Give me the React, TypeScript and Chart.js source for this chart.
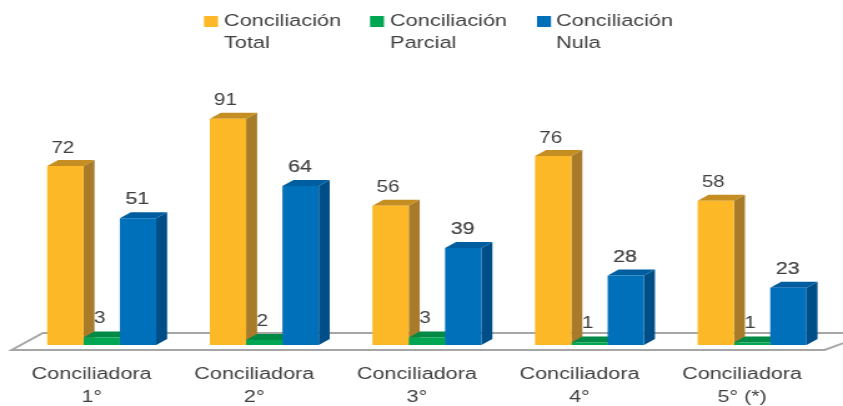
import React, { useEffect, useRef } from "react";
import { Chart, registerables } from "chart.js";

Chart.register(...registerables);

const categories = [
  ["Conciliadora", "1°"],
  ["Conciliadora", "2°"],
  ["Conciliadora", "3°"],
  ["Conciliadora", "4°"],
  ["Conciliadora", "5° (*)"],
];
const totalValues = [72, 91, 56, 76, 58];
const parcialValues = [3, 2, 3, 1, 1];
const nulaValues = [51, 64, 39, 28, 23];
const seriesNames = [
  ["Conciliación", "Total"],
  ["Conciliación", "Parcial"],
  ["Conciliación", "Nula"],
];
const frontColors = ["#FDB827", "#00A651", "#0070BA"];
const sideColors = ["#A87B2A", "#007A3D", "#004E87"];
const topColors = ["#C48E22", "#008A45", "#005DA0"];
const labelSizes = [16.5, 16.5, 17];
const labelShiftX = [-2, -1.5, -0.5];
const labelShiftY = [-18, -19, -18.5];
const labelStroke = [0, 0, 0.2];

const CANVAS_W = 675;
const CANVAS_H = 406;
const SX = 843 / CANVAS_W;
const TEXT = "#404040";
const FONT = "'Liberation Sans', Arial, sans-serif";
const DEPTH_X = 11 / SX;
const DEPTH_Y = 6;
const legendBoxX = [204, 370, 537];
const legendTextX = [224, 390, 556];

const threeD = {
  id: "threeD",
  beforeDatasetsDraw(chart: any) {
    const { ctx, chartArea } = chart;
    const b = chartArea.bottom;
    const l = chartArea.left;
    const r = chartArea.right;
    ctx.save();
    // floor
    ctx.beginPath();
    ctx.moveTo(l - 7, b + 5);
    ctx.lineTo(l + 18, b - 12);
    ctx.lineTo(r + 30, b - 12);
    ctx.lineTo(r - 7, b + 5);
    ctx.closePath();
    ctx.fillStyle = "#ffffff";
    ctx.fill();
    ctx.lineWidth = 2;
    ctx.strokeStyle = "#a6a6a6";
    ctx.stroke();
    // depth faces
    chart.data.datasets.forEach((_: any, di: number) => {
      chart.getDatasetMeta(di).data.forEach((bar: any) => {
        const x0 = bar.x - bar.width / 2;
        const x1 = bar.x + bar.width / 2;
        const y = bar.y;
        const base = bar.base;
        ctx.fillStyle = sideColors[di];
        ctx.beginPath();
        ctx.moveTo(x1, y);
        ctx.lineTo(x1 + DEPTH_X, y - DEPTH_Y);
        ctx.lineTo(x1 + DEPTH_X, base - DEPTH_Y);
        ctx.lineTo(x1, base);
        ctx.closePath();
        ctx.fill();
        ctx.fillStyle = topColors[di];
        ctx.beginPath();
        ctx.moveTo(x0, y);
        ctx.lineTo(x0 + DEPTH_X, y - DEPTH_Y);
        ctx.lineTo(x1 + DEPTH_X, y - DEPTH_Y);
        ctx.lineTo(x1, y);
        ctx.closePath();
        ctx.fill();
      });
    });
    ctx.restore();
  },
  afterDatasetsDraw(chart: any) {
    const { ctx } = chart;
    ctx.save();
    ctx.textAlign = "center";
    ctx.textBaseline = "middle";
    ctx.fillStyle = TEXT;
    ctx.strokeStyle = TEXT;
    chart.data.datasets.forEach((ds: any, di: number) => {
      ctx.font = `${labelSizes[di]}px ${FONT}`;
      ctx.lineWidth = labelStroke[di];
      chart.getDatasetMeta(di).data.forEach((bar: any, i: number) => {
        const t = String(ds.data[i]);
        ctx.fillText(t, bar.x + labelShiftX[di], bar.y + labelShiftY[di]);
        if (labelStroke[di] > 0) ctx.strokeText(t, bar.x + labelShiftX[di], bar.y + labelShiftY[di]);
      });
    });
    // legend
    ctx.textAlign = "left";
    ctx.font = `17.4px ${FONT}`;
    seriesNames.forEach((lines, i) => {
      ctx.fillStyle = frontColors[i];
      ctx.fillRect(legendBoxX[i] / SX, 16, 14 / SX, 11);
      ctx.fillStyle = TEXT;
      lines.forEach((t, k) => ctx.fillText(t, legendTextX[i] / SX, 21 + k * 22));
    });
    ctx.restore();
  },
};

export default function App() {
  const ref = useRef<HTMLCanvasElement>(null);
  useEffect(() => {
    document.body.style.margin = "0";
    const chart = new Chart(ref.current!, {
      type: "bar",
      data: {
        labels: categories,
        datasets: [totalValues, parcialValues, nulaValues].map((data, i) => ({
          label: seriesNames[i].join(" "),
          data,
          backgroundColor: frontColors[i],
          borderWidth: 0,
          categoryPercentage: 0.67,
          barPercentage: 1,
        })),
      },
      options: {
        responsive: false,
        animation: false,
        layout: { padding: { left: 16.3, right: CANVAS_W - 667.3, top: 96.4, bottom: 0 } },
        plugins: { legend: { display: false }, tooltip: { enabled: false } },
        scales: {
          x: {
            grid: { display: false },
            border: { display: false },
            afterFit(scale: any) {
              scale.height = 61;
            },
            ticks: {
              color: TEXT,
              padding: 10,
              labelOffset: -8,
              maxRotation: 0,
              autoSkip: false,
              font: { family: FONT, size: 17.3, lineHeight: 1.33 },
            },
          },
          y: { display: false, min: 0, max: 100 },
        },
      },
      plugins: [threeD],
    } as any);
    return () => chart.destroy();
  }, []);
  return (
    <div style={{ position: "absolute", left: 0, top: 0, width: 843, height: CANVAS_H, overflow: "hidden" }}>
      <canvas
        ref={ref}
        width={CANVAS_W}
        height={CANVAS_H}
        style={{ display: "block", transform: `scaleX(${SX})`, transformOrigin: "0 0" }}
      />
    </div>
  );
}
